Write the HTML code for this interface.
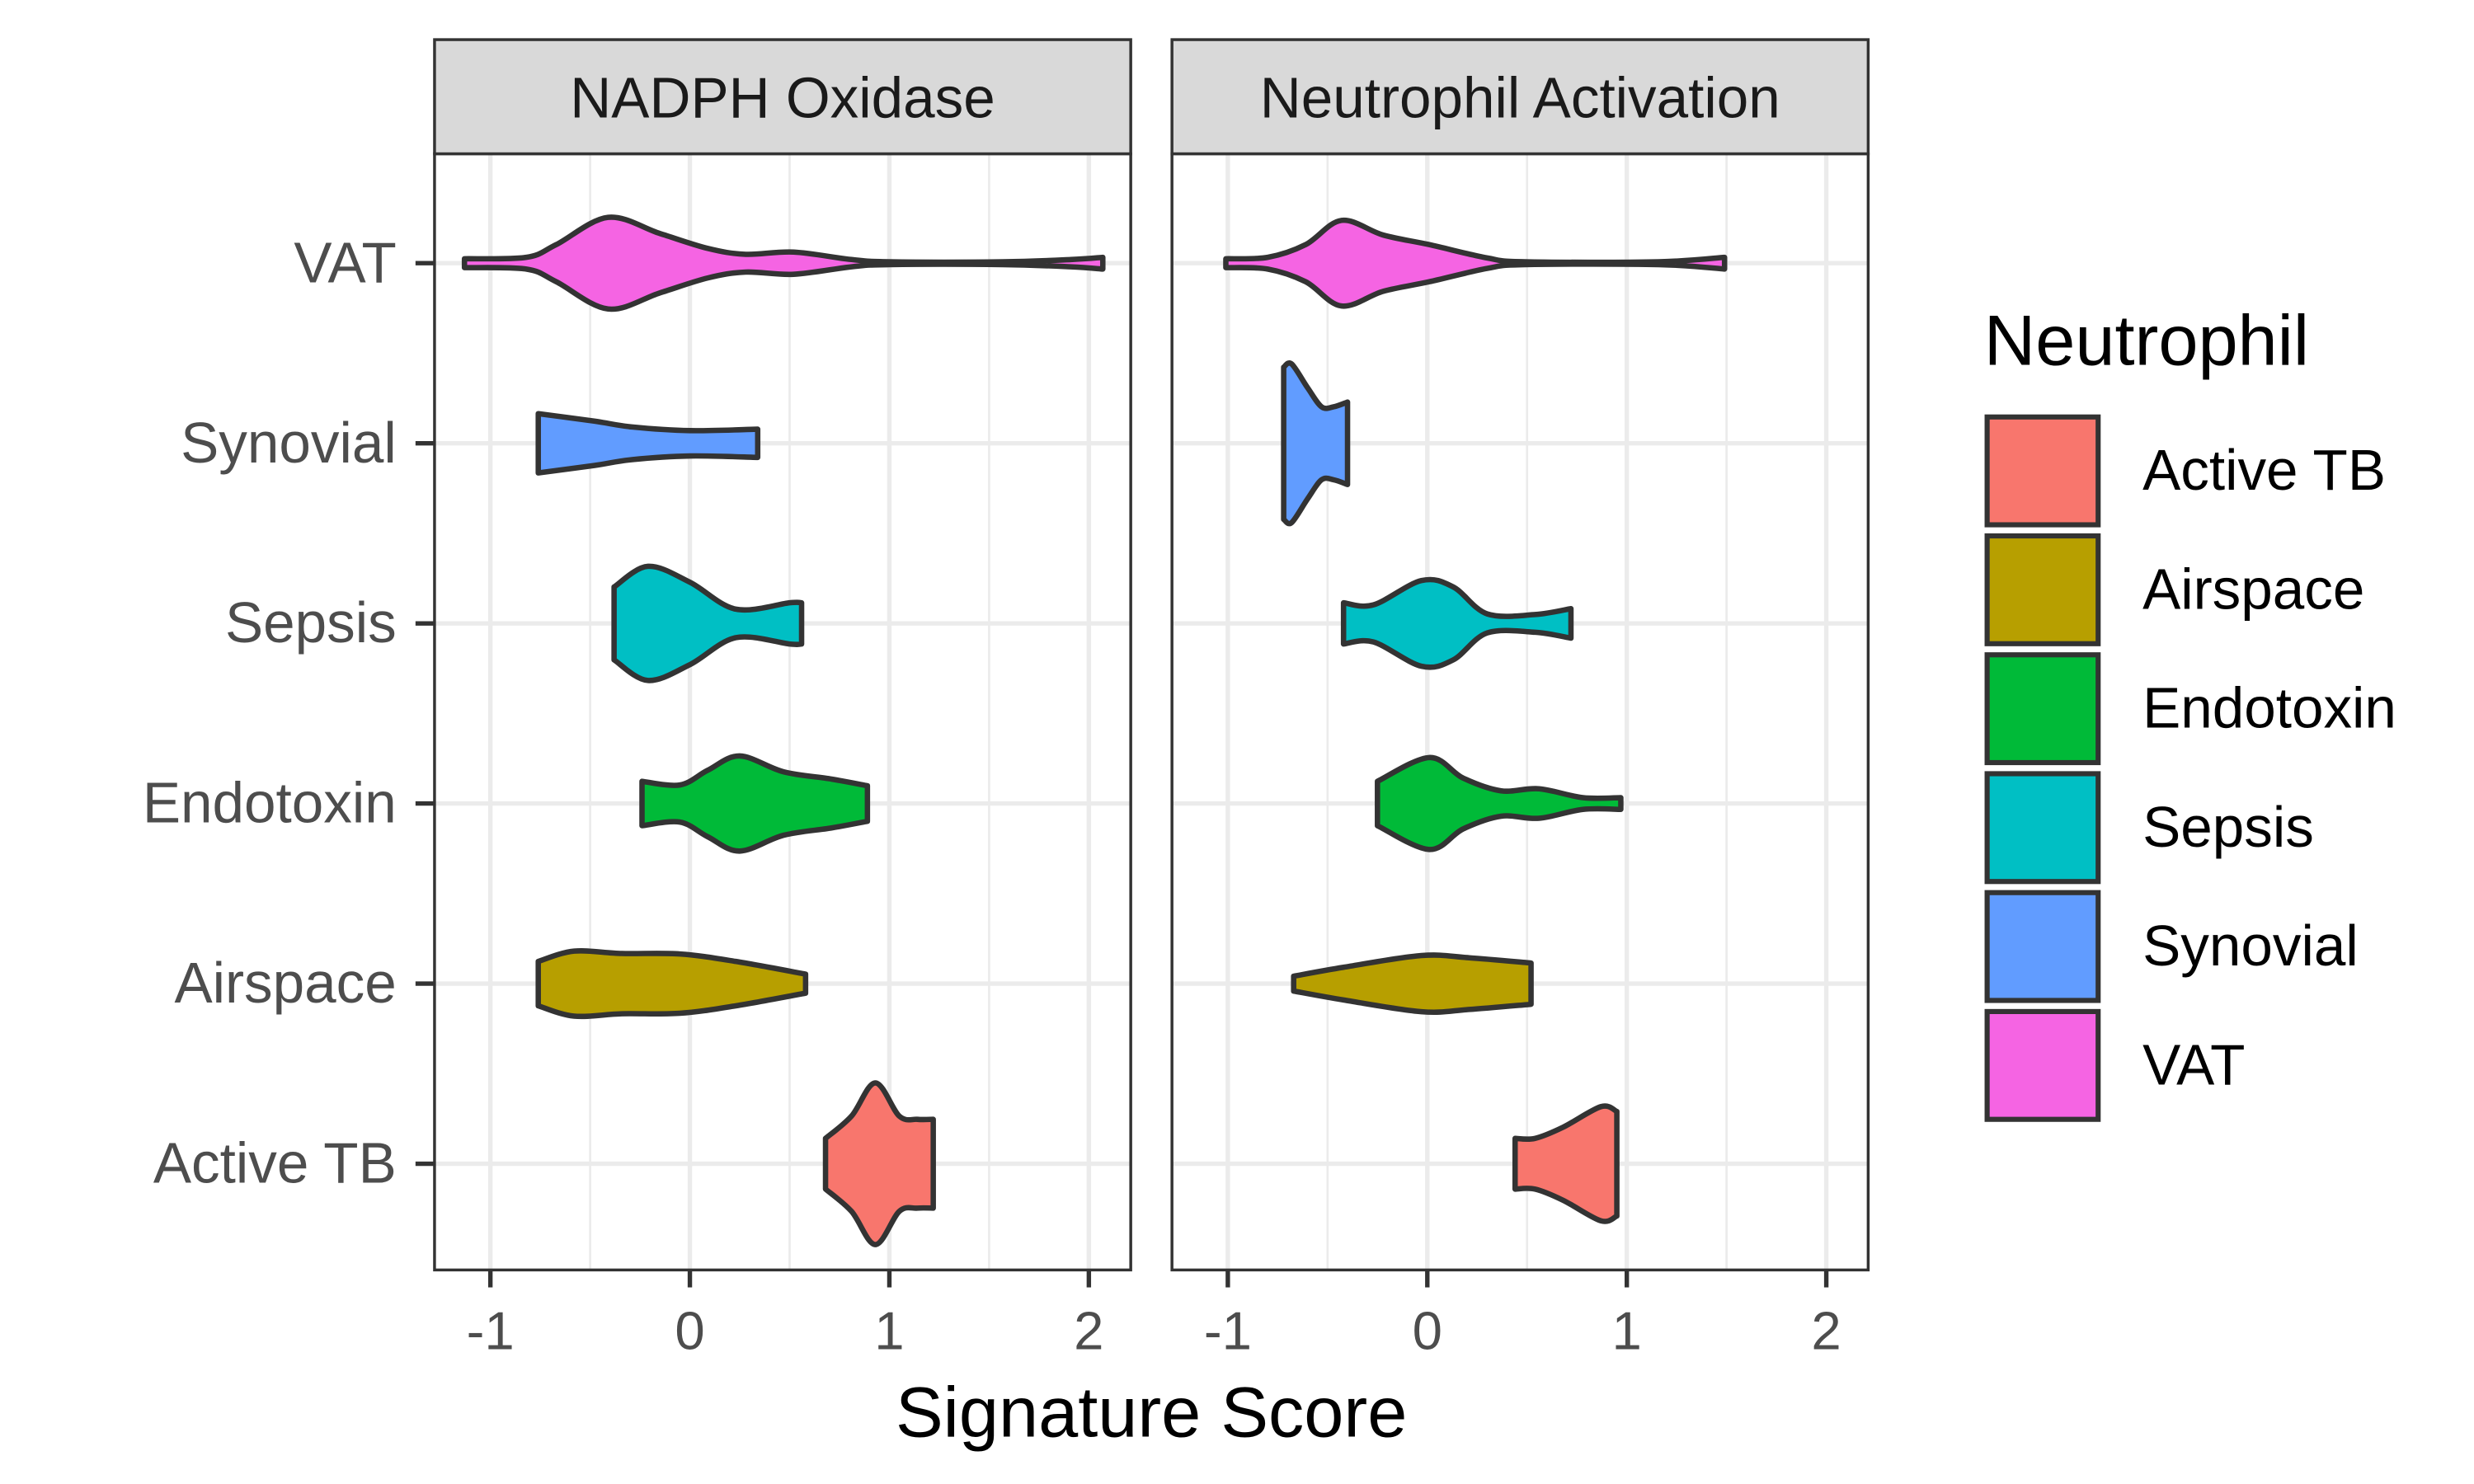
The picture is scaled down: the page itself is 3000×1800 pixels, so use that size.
<!DOCTYPE html>
<html><head><meta charset="utf-8"><style>
html,body{margin:0;padding:0;background:#fff;}
svg{display:block;font-family:"Liberation Sans",Arial,sans-serif;}
</style></head><body>
<svg id="chart" width="3000" height="1800" viewBox="0 0 1560 936" xmlns="http://www.w3.org/2000/svg">
<rect x="0" y="0" width="1560" height="936" fill="#fff"/>
<g id="layer"></g>
</svg>
<script>
const categories = ["Active TB","Airspace","Endotoxin","Sepsis","Synovial","VAT"];
const colors = ["#F8766D","#B79F00","#00BA38","#00BFC4","#619CFF","#F564E3"];
const panels = ["NADPH Oxidase","Neutrophil Activation"];
const xTicks = [-1,0,1,2];
const xTickLabels = ["-1","0","1","2"];
const nadphScores = {
 "VAT":[-1.13,-0.82,-0.67,-0.41,-0.15,0.09,0.28,0.52,0.81,1.0,1.57,1.91,2.07],
 "Synovial":[-0.76,-0.48,-0.29,0,0.34],
 "Sepsis":[-0.38,-0.21,0,0.23,0.5,0.56],
 "Endotoxin":[-0.24,-0.05,0.09,0.25,0.47,0.71,0.89],
 "Airspace":[-0.76,-0.58,-0.34,-0.05,0.23,0.58],
 "Active TB":[0.68,0.81,0.93,1.05,1.14,1.22]
};
const nadphDensity = {
 "VAT":[2.8,3.7,11.7,28.9,18.7,9.3,5.6,7,2.3,0.9,0.9,2.3,3.7],
 "Synovial":[18.7,14,10.3,8,8.9],
 "Sepsis":[23,36,26,9,13,13],
 "Endotoxin":[14,11.7,21,30,20,15.4,11.2],
 "Airspace":[14,20.5,19,18.7,14,6],
 "Active TB":[16,30,51,30,28,28]
};
const neutScores = {
 "VAT":[-1.01,-0.8,-0.61,-0.43,-0.22,0.01,0.3,0.49,1.16,1.49],
 "Synovial":[-0.72,-0.68,-0.6,-0.53,-0.47,-0.4],
 "Sepsis":[-0.42,-0.27,-0.03,0.13,0.3,0.54,0.72],
 "Endotoxin":[-0.25,0.01,0.18,0.37,0.56,0.78,0.97],
 "Airspace":[-0.67,-0.42,-0.03,0.21,0.52],
 "Active TB":[0.44,0.54,0.68,0.87,0.95]
};
const neutDensity = {
 "VAT":[2.8,3.7,11.7,27,17.7,11.7,3.3,0.9,0.9,3.7],
 "Synovial":[48,50,35,23,23,26],
 "Sepsis":[13,11.7,27,23,6,5.6,9.3],
 "Endotoxin":[14,29,16,8,9.3,3.7,3.7],
 "Airspace":[4.7,10.3,17.7,16.3,13],
 "Active TB":[16,16,23,36,33]
};
const panelScores=[nadphScores,neutScores];
const panelDensity=[nadphDensity,neutDensity];

const NS="http://www.w3.org/2000/svg";
const layer=document.getElementById('layer');
function mk(tag,attrs,parent){const e=document.createElementNS(NS,tag);for(const k in attrs)e.setAttribute(k,attrs[k]);(parent||layer).appendChild(e);return e;}
const panelX=[274,739], panelW=439, plotTop=97, plotBot=801;
const xMin=-1.28, xMax=2.21;
function xScale(p,v){return panelX[p]+(v-xMin)/(xMax-xMin)*panelW;}
function yScale(i){return 734-i*113.6;}
function wScale(d){return d;}
function smooth(pts){
 let d="M"+pts[0][0]+","+pts[0][1];
 for(let i=0;i<pts.length-1;i++){
  const p0=pts[Math.max(0,i-1)],p1=pts[i],p2=pts[i+1],p3=pts[Math.min(pts.length-1,i+2)];
  const c1x=p1[0]+(p2[0]-p0[0])/6,c1y=p1[1]+(p2[1]-p0[1])/6;
  const c2x=p2[0]-(p3[0]-p1[0])/6,c2y=p2[1]-(p3[1]-p1[1])/6;
  d+=" C"+c1x+","+c1y+" "+c2x+","+c2y+" "+p2[0]+","+p2[1];
 }
 return d;
}
for(let p=0;p<2;p++){
 const g=mk('g',{});
 
 
 mk('rect',{x:panelX[p],y:plotTop,width:panelW,height:plotBot-plotTop,fill:'#fff'},g);
 for(let t=-1;t<2;t++){const x=xScale(p,t+0.5);mk('line',{x1:x,x2:x,y1:plotTop,y2:plotBot,stroke:'#ebebeb','stroke-width':1.4},g);}
 xTicks.forEach(t=>{const x=xScale(p,t);const l=mk('line',{x1:x,x2:x,y1:plotTop,y2:plotBot,stroke:'#ebebeb','stroke-width':2.8},g);});
 categories.forEach((c,i)=>{const y=yScale(i);mk('line',{x1:panelX[p],x2:panelX[p]+panelW,y1:y,y2:y,stroke:'#ebebeb','stroke-width':2.8},g);});
 categories.forEach((c,i)=>{
  const s=panelScores[p][c], d=panelDensity[p][c], yc=yScale(i);
  const top=s.map((v,k)=>[xScale(p,v),yc-wScale(d[k])]);
  const bot=s.map((v,k)=>[xScale(p,v),yc+wScale(d[k])]).reverse();
  let path=smooth(top)+" L"+bot[0][0]+","+bot[0][1]+" "+smooth(bot).slice(1).replace(/^[^C]*/,'')+" Z";
  const v=mk('path',{d:path,fill:colors[i],stroke:'#333','stroke-width':3.4,'stroke-linejoin':'round'},g);
  
  
 });
 mk('rect',{x:panelX[p],y:plotTop,width:panelW,height:plotBot-plotTop,fill:'none',stroke:'#333','stroke-width':1.8},g);
 const st=mk('rect',{x:panelX[p],y:25,width:panelW,height:72,fill:'#d9d9d9',stroke:'#333','stroke-width':1.8},g);
 
 
 const tt=mk('text',{x:panelX[p]+panelW/2,y:74,'text-anchor':'middle','font-size':36,fill:'#1a1a1a'},g);
 tt.textContent=panels[p];
 
 
 xTicks.forEach((t,k)=>{const x=xScale(p,t);mk('line',{x1:x,x2:x,y1:plotBot,y2:plotBot+11,stroke:'#333','stroke-width':2.8},g);
  const tl=mk('text',{x:x,y:851,'text-anchor':'middle','font-size':34,fill:'#4d4d4d'},g);tl.textContent=xTickLabels[k];
  
  });
}
categories.forEach((c,i)=>{const y=yScale(i);mk('line',{x1:262,x2:274,y1:y,y2:y,stroke:'#333','stroke-width':2.8});
 const t=mk('text',{x:250,y:y+12,'text-anchor':'end','font-size':36,fill:'#4d4d4d'});t.textContent=c;
 
 });
const xt=mk('text',{x:726,y:906,'text-anchor':'middle','font-size':45,fill:'#000'});xt.textContent='Signature Score';


const lg=mk('g',{});


const lt=mk('text',{x:1251,y:230,'font-size':45,fill:'#000'},lg);lt.textContent='Neutrophil';
categories.forEach((c,i)=>{const y=263+i*75;
 const r=mk('rect',{x:1253,y:y,width:70,height:68,fill:colors[i],stroke:'#333','stroke-width':3.2},lg);
 
 
 const t=mk('text',{x:1351,y:y+46,'font-size':36,fill:'#000'},lg);t.textContent=c;
 
 
});
</script>
</body></html>
